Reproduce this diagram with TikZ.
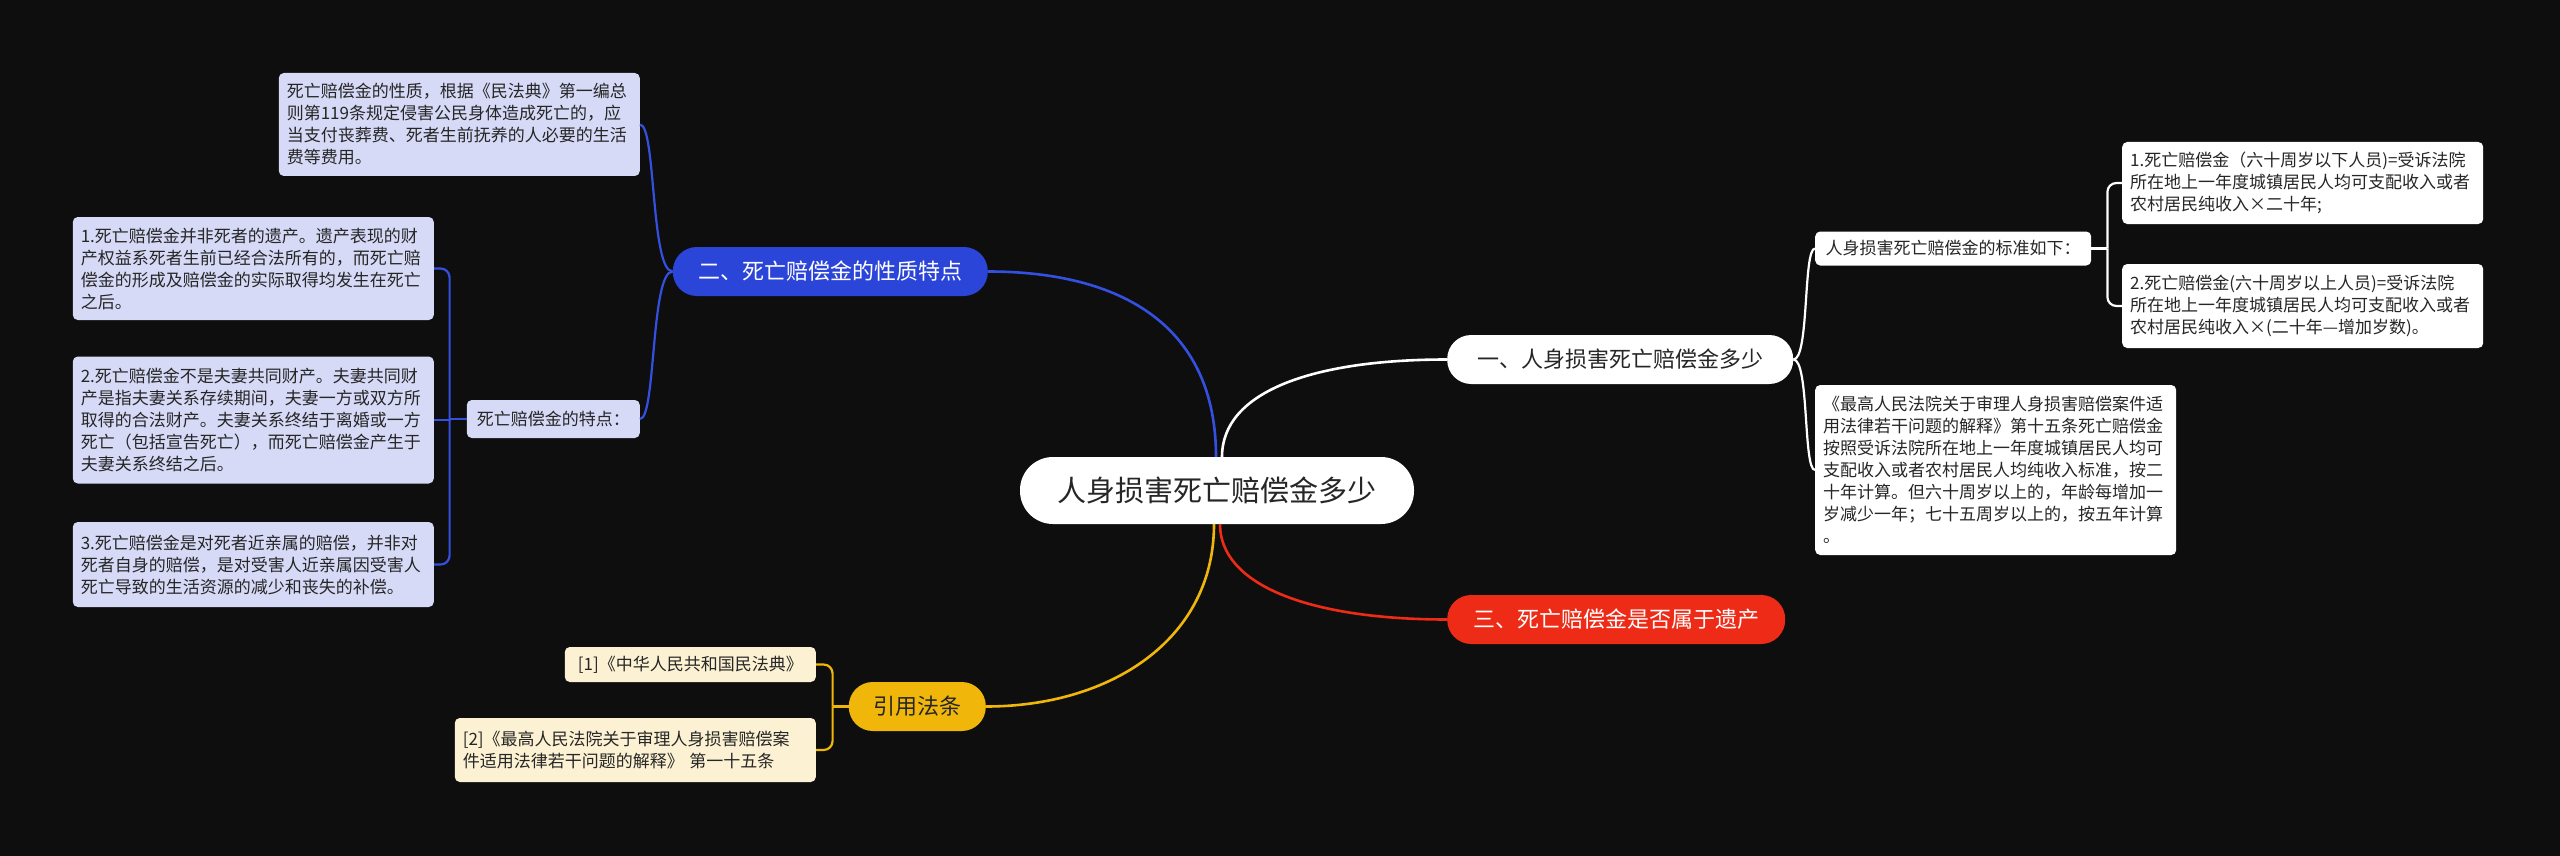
\documentclass[tikz,border=0pt]{standalone}
\usepackage{fontspec}
\setmainfont{Noto Sans CJK SC}
\definecolor{bgc}{HTML}{0E0E0E}
\definecolor{bluen}{HTML}{2B45D8}
\definecolor{bluel}{HTML}{3450E0}
\definecolor{redn}{HTML}{EE2B17}
\definecolor{yelln}{HTML}{F0B70A}
\definecolor{lav}{HTML}{D6DAF7}
\definecolor{cream}{HTML}{FCF1D2}
\definecolor{txt}{HTML}{262626}
\begin{document}
\begin{tikzpicture}[x=1pt,y=-1pt]
\tikzset{
  leaf/.style={rounded corners=5pt, inner xsep=8pt, inner ysep=3pt, font=\fontsize{17}{22}\selectfont, text=txt, align=left},
  leafw/.style={leaf, text width=345pt},
  branch/.style={rounded corners=24pt, font=\fontsize{22}{26}\selectfont, minimum height=49pt, inner sep=0pt},
  mainline/.style={line width=2.6pt},
  subline/.style={line width=2.2pt},
}
\useasboundingbox (0,0) rectangle (2560,856);
\fill[bgc] (0,0) rectangle (2560,856);

% root and branches
\node[fill=white, text=txt, rounded corners=33pt, minimum width=394pt, minimum height=67pt, inner sep=0pt, font=\fontsize{29}{34}\selectfont] (root) at (1217,490.5) {人身损害死亡赔偿金多少};
\node[branch, fill=white, text=txt, minimum width=346pt, anchor=west] (b1) at (1447,359.5) {一、人身损害死亡赔偿金多少};
\node[branch, fill=redn, text=white, minimum width=338pt, anchor=west] (b3) at (1447,619.5) {三、死亡赔偿金是否属于遗产};
\node[branch, fill=bluen, text=white, minimum width=315pt, anchor=east] (b2) at (988,271.5) {二、死亡赔偿金的性质特点};
\node[branch, fill=yelln, text=txt, minimum width=137pt, anchor=east] (b4) at (986,706.5) {引用法条};

% left (blue) leaves
\node[leafw, fill=lav, minimum height=103pt, anchor=east] (t0) at (640,124.5) {死亡赔偿金的性质，根据《民法典》第一编总\\则第119条规定侵害公民身体造成死亡的，应\\当支付丧葬费、死者生前抚养的人必要的生活\\费等费用。};
\node[leaf, fill=lav, minimum height=38pt, minimum width=173pt, anchor=east] (td) at (640,419) {死亡赔偿金的特点：};
\node[leafw, fill=lav, minimum height=103pt, anchor=east] (l1) at (434,268.5) {1.死亡赔偿金并非死者的遗产。遗产表现的财\\产权益系死者生前已经合法所有的，而死亡赔\\偿金的形成及赔偿金的实际取得均发生在死亡\\之后。};
\node[leafw, fill=lav, minimum height=127pt, anchor=east] (l2) at (434,420) {2.死亡赔偿金不是夫妻共同财产。夫妻共同财\\产是指夫妻关系存续期间，夫妻一方或双方所\\取得的合法财产。夫妻关系终结于离婚或一方\\死亡（包括宣告死亡），而死亡赔偿金产生于\\夫妻关系终结之后。};
\node[leafw, fill=lav, minimum height=85pt, anchor=east] (l3) at (434,564.5) {3.死亡赔偿金是对死者近亲属的赔偿，并非对\\死者自身的赔偿，是对受害人近亲属因受害人\\死亡导致的生活资源的减少和丧失的补偿。};

% right (white) leaves
\node[leaf, fill=white, minimum height=34pt, minimum width=276pt, anchor=west] (r0) at (1815,248.5) {人身损害死亡赔偿金的标准如下：};
\node[leafw, fill=white, minimum height=82pt, anchor=west] (r1) at (2122,183) {1.死亡赔偿金（六十周岁以下人员)=受诉法院\\所在地上一年度城镇居民人均可支配收入或者\\农村居民纯收入×二十年;};
\node[leafw, fill=white, minimum height=84pt, anchor=west] (r2) at (2122,306) {2.死亡赔偿金(六十周岁以上人员)=受诉法院\\所在地上一年度城镇居民人均可支配收入或者\\农村居民纯收入×(二十年—增加岁数)。};
\node[leafw, fill=white, minimum height=170pt, anchor=west] (r3) at (1815,470) {《最高人民法院关于审理人身损害赔偿案件适\\用法律若干问题的解释》第十五条死亡赔偿金\\按照受诉法院所在地上一年度城镇居民人均可\\支配收入或者农村居民人均纯收入标准，按二\\十年计算。但六十周岁以上的，年龄每增加一\\岁减少一年；七十五周岁以上的，按五年计算\\。};

% yellow leaves
\node[leaf, fill=cream, minimum height=35pt, minimum width=251pt, anchor=east] (y1) at (816,664.5) {[1]《中华人民共和国民法典》};
\node[leafw, fill=cream, minimum height=64pt, anchor=east] (y2) at (816,750) {[2]《最高人民法院关于审理人身损害赔偿案\\件适用法律若干问题的解释》 第一十五条};

% root connectors
\draw[mainline, white] ([xshift=5pt]root.north) .. controls +(0,-65) and +(-135,0) .. (b1.west);
\draw[mainline, bluel] ([xshift=-1pt]root.north) .. controls +(0,-130) and +(135,0) .. (b2.east);
\draw[mainline, redn] ([xshift=3pt]root.south) .. controls +(0,60) and +(-140,0) .. (b3.west);
\draw[mainline, yelln] ([xshift=-3pt]root.south) .. controls +(0,115) and +(125,0) .. (b4.east);

% blue branch
\draw[subline, bluel] (b2.west) .. controls +(-22,0) and +(16,0) .. (t0.east);
\draw[subline, bluel] (b2.west) .. controls +(-22,0) and +(16,0) .. (td.east);
\draw[subline, bluel] (td.west) -- ([xshift=-17pt]td.west) coordinate (jl);
\draw[subline, bluel, rounded corners=9pt] (jl) |- (l1.east);
\draw[subline, bluel] (jl) |- (l2.east);
\draw[subline, bluel, rounded corners=9pt] (jl) |- (l3.east);

% white branch
\draw[subline, white] (b1.east) .. controls +(16,0) and +(-12,0) .. (r0.west);
\draw[subline, white] (b1.east) .. controls +(16,0) and +(-12,0) .. (r3.west);
\draw[subline, white] (r0.east) -- ([xshift=16pt]r0.east) coordinate (jr);
\draw[subline, white, rounded corners=9pt] (jr) |- (r1.west);
\draw[subline, white, rounded corners=9pt] (jr) |- (r2.west);

% yellow branch
\draw[subline, yelln] (b4.west) -- ([xshift=-16pt]b4.west) coordinate (jy);
\draw[subline, yelln, rounded corners=9pt] (jy) |- (y1.east);
\draw[subline, yelln, rounded corners=9pt] (jy) |- (y2.east);
\end{tikzpicture}
\end{document}
